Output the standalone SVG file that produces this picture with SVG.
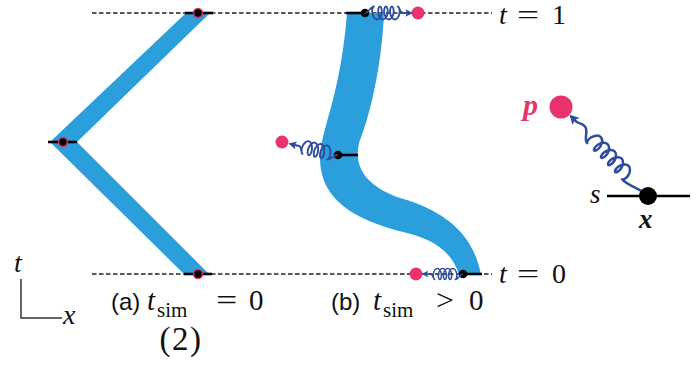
<svg xmlns="http://www.w3.org/2000/svg" width="696" height="379" viewBox="0 0 696 379">
<style>
.dash{stroke:#222;stroke-width:1.3;stroke-dasharray:4.5 2.5;fill:none}
.band{fill:#2b9fdc}
.sl{stroke:#000;stroke-width:2.6;fill:none}
.adot{fill:#000;stroke:#e0306a;stroke-width:1.6}
.bdot{fill:#000}
.pink{fill:#e8336c}
.spring{fill:none;stroke:#2c4c9c;stroke-width:1.8;stroke-linejoin:round}
.head{fill:#2c4c9c}
.m{font-family:"Liberation Serif",serif;font-style:italic;fill:#111}
.r{font-family:"Liberation Serif",serif;fill:#111}
.s{font-family:"Liberation Sans",Arial,sans-serif;fill:#111}
</style>
<defs>
<g id="spr">
<path class="spring" d="M0,0 C3,0 6,-6.5 9,-6.5 c-1.18,0 -2.2,3.1 -1.71,6.5 c0.5,3.4 2.52,6.5 4.69,6.5 c2.17,0 4.2,-3.1 4.69,-6.5 c0.5,-3.4 -0.53,-6.5 -1.71,-6.5 c-1.18,0 -2.2,3.1 -1.71,6.5 c0.5,3.4 2.52,6.5 4.69,6.5 c2.17,0 4.2,-3.1 4.69,-6.5 c0.5,-3.4 -0.53,-6.5 -1.71,-6.5 c-1.18,0 -2.2,3.1 -1.71,6.5 c0.5,3.4 2.52,6.5 4.69,6.5 c2.17,0 4.2,-3.1 4.69,-6.5 c0.5,-3.4 -0.53,-6.5 -1.71,-6.5 c-1.18,0 -2.2,3.1 -1.71,6.5 c0.5,3.4 2.52,6.5 4.69,6.5 c2.17,0 4.2,-3.1 4.69,-6.5 c0.5,-3.4 -0.53,-6.5 -1.71,-6.5 c1.5,0 2,6.5 5,6.5 L44,0"/>
<polygon class="head" points="48,0 40.5,-3.8 42,0 40.5,3.8"/>
</g>
</defs>

<g id="guides">
<line class="dash" x1="92" y1="13" x2="492" y2="13"/>
<line class="dash" x1="92" y1="274" x2="492" y2="274"/>
</g>

<g id="panel-a">
<polygon class="band" points="186,13 210,13 77,142 210,275 185,275 50,142"/>
<g id="a-top"><line class="sl" x1="185" y1="13" x2="213" y2="13"/><circle class="adot" cx="198" cy="13" r="4.5"/></g>
<g id="a-mid"><line class="sl" x1="48" y1="142" x2="77" y2="142"/><circle class="adot" cx="63" cy="142" r="4.5"/></g>
<g id="a-bot"><line class="sl" x1="184" y1="274" x2="212" y2="274"/><circle class="adot" cx="198" cy="274" r="4.5"/></g>
</g>

<g id="panel-b">
<path class="band" d="M347,13 L384,13 C382,60 372,110 360,140 C352,165 365,185 397,197 C432,207 472,225 481,275 L459,275 C452,250 430,238 403,232 C355,220 321,200 320,160 C320,130 340,100 347,13 Z"/>
<g id="b-top">
<circle class="pink" cx="418" cy="13" r="6.5"/>
<line class="sl" x1="346" y1="13" x2="365" y2="13"/>
<circle class="bdot" cx="365" cy="13" r="4.3"/>
<use href="#spr" transform="translate(365,13)"/>
</g>
<g id="b-mid">
<circle class="pink" cx="282" cy="142" r="6.5"/>
<line class="sl" x1="338" y1="155" x2="358" y2="155"/>
<circle class="bdot" cx="338" cy="155" r="4.3"/>
<use href="#spr" transform="translate(338,155) rotate(193) scale(1.06)"/>
</g>
<g id="b-bot">
<circle class="pink" cx="416" cy="274" r="6.5"/>
<line class="sl" x1="463" y1="274" x2="482" y2="274"/>
<circle class="bdot" cx="463" cy="274" r="4.3"/>
<use href="#spr" transform="translate(463,274) rotate(180) scale(0.86)"/>
</g>
</g>

<g id="legend">
<circle class="pink" cx="561" cy="107" r="11.5"/>
<line class="sl" x1="607" y1="196" x2="690" y2="196" style="stroke-width:2.4"/>
<g transform="translate(648,196) rotate(226)">
<path class="spring" style="stroke-width:2.5" d="M0,0 C10,0 20,-7 30,-7 c-1.26,0 -2.33,3.34 -1.49,7 c0.84,3.67 3.58,7 6.51,7 c2.93,0 5.68,-3.34 6.51,-7 c0.84,-3.67 -0.23,-7 -1.49,-7 c-1.26,0 -2.33,3.34 -1.49,7 c0.84,3.67 3.58,7 6.51,7 c2.93,0 5.68,-3.34 6.51,-7 c0.84,-3.67 -0.23,-7 -1.49,-7 c-1.26,0 -2.33,3.34 -1.49,7 c0.84,3.67 3.58,7 6.51,7 c2.93,0 5.68,-3.34 6.51,-7 c0.84,-3.67 -0.23,-7 -1.49,-7 c-1.26,0 -2.33,3.34 -1.49,7 c0.84,3.67 3.58,7 6.51,7 c2.93,0 5.68,-3.34 6.51,-7 c0.84,-3.67 -0.23,-7 -1.49,-7 c-1.26,0 -2.33,3.34 -1.49,7 c0.84,3.67 3.58,7 6.51,7 c2.93,0 5.68,-3.34 6.51,-7 c0.84,-3.67 -0.23,-7 -1.49,-7 C86,-7 88,3 94,3 S100,0 104,0 L107,0"/>
<polygon class="head" points="113,0 103.5,-5 105.5,0 103.5,5"/>
</g>
<circle class="bdot" cx="648" cy="196" r="9"/>
<text class="m" x="590" y="203" font-size="27">s</text>
<text class="m" x="639" y="228" font-size="27" font-weight="bold">x</text>
<text class="m" x="523" y="115" font-size="30" font-weight="bold" style="fill:#e8336c">p</text>
</g>

<g id="labels">
<text class="m" x="499" y="24" font-size="28">t</text>
<text class="r" font-size="28" transform="translate(517,24) scale(1.4,1)">=</text>
<text class="r" x="552" y="24" font-size="28">1</text>
<text class="m" x="499" y="283" font-size="28">t</text>
<text class="r" font-size="28" transform="translate(517,283) scale(1.4,1)">=</text>
<text class="r" x="552" y="283" font-size="28">0</text>

<text class="s" x="111" y="310" font-size="24">(a)</text>
<text class="m" x="147" y="310" font-size="29">t</text>
<text class="r" x="157" y="317" font-size="21">sim</text>
<text class="r" font-size="29" transform="translate(216,310) scale(1.3,1)">=</text>
<text class="r" x="249" y="310" font-size="29">0</text>

<text class="s" x="331" y="310" font-size="24">(b)</text>
<text class="m" x="373" y="310" font-size="29">t</text>
<text class="r" x="383" y="317" font-size="21">sim</text>
<text class="r" font-size="29" transform="translate(436,310) scale(1.1,1)">&gt;</text>
<text class="r" x="469" y="310" font-size="29">0</text>

<text class="r" x="181" y="350" font-size="33" text-anchor="middle" letter-spacing="1.5">(2)</text>
</g>

<g id="axes">
<path d="M21,279 V318 H62" fill="none" stroke="#333" stroke-width="1.5"/>
<text class="m" x="14" y="272" font-size="28">t</text>
<text class="m" x="63" y="324" font-size="28">x</text>
</g>
</svg>
